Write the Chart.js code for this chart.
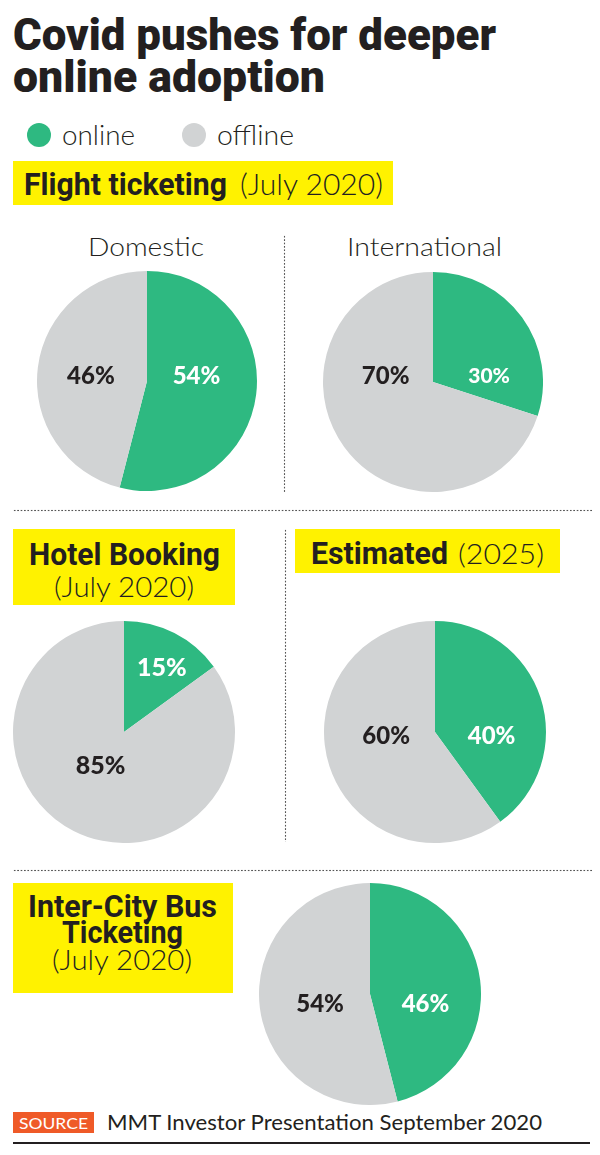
<!DOCTYPE html>
<html>
<head>
<meta charset="utf-8">
<script src="https://cdn.jsdelivr.net/npm/chart.js@4"></script>
<style>
  html, body { margin: 0; padding: 0; background: #fff; }
  #page { position: relative; width: 600px; height: 1155px; overflow: hidden; }
  .t { position: absolute; white-space: nowrap; line-height: 1; transform-origin: 0 0; color: #231f20; }
  .box { position: absolute; background: #fff200; }
  .dotsH { position: absolute; height: 3px;
    background: radial-gradient(circle, #555 0.8px, transparent 1.1px) 0 0 / 3.4px 3px repeat-x; }
  .dotsV { position: absolute; width: 3px;
    background: radial-gradient(circle, #555 0.8px, transparent 1.1px) 0 0 / 3px 3.4px repeat-y; }
  canvas { position: absolute; }
</style>
</head>
<body>
<div id="page"></div>
<script>
// data
const categories = ['online', 'offline'];
const pieNames = ['Domestic', 'International', 'Hotel Booking', 'Estimated', 'Inter-City Bus Ticketing'];
const onlineShare = [54, 30, 15, 40, 46];
const offlineShare = [46, 70, 85, 60, 54];

const colors = { online: '#2eb981', offline: '#d1d3d4' };
const page = document.getElementById('page');

// baseline offset (line-height 1) for each font
const baseOf = { Roboto: 0.842, Lato: 0.887 };

// place a text so that its baseline sits at y, optionally squeezed to a width
function txt(str, x, y, size, family, weight, width, color) {
    const d = document.createElement('div');
    d.className = 't';
    d.textContent = str;
    d.style.fontFamily = family;
    d.style.fontWeight = weight;
    d.style.fontSize = size + 'px';
    d.style.left = x + 'px';
    d.style.top = (y - baseOf[family] * size) + 'px';
    if (color) d.style.color = color;
    page.appendChild(d);
    if (width) {
        const w = d.getBoundingClientRect().width;
        d.style.transform = `scaleX(${width / w})`;
    }
    return d;
}

function rect(cls, x, y, w, h, bg) {
    const d = document.createElement('div');
    d.className = cls;
    d.style.left = x + 'px';
    d.style.top = y + 'px';
    if (w) d.style.width = w + 'px';
    if (h) d.style.height = h + 'px';
    if (bg) d.style.background = bg;
    page.appendChild(d);
    return d;
}

// title
txt('Covid pushes for deeper', 13, 50, 45, 'Roboto', 900, 483);
txt('online adoption', 13, 92, 45, 'Roboto', 900, 312);

// legend
const dot1 = rect('t', 27, 123, 24, 24, colors.online); dot1.style.borderRadius = '50%';
txt(categories[0], 62, 145, 27, 'Lato', 300, 73, '#231f20');
const dot2 = rect('t', 182, 123, 24, 24, colors.offline); dot2.style.borderRadius = '50%';
txt(categories[1], 217, 145, 27, 'Lato', 300, 77, '#231f20');

// section labels
rect('box', 13, 161, 380, 44);
txt('Flight ticketing', 24, 195, 32, 'Roboto', 700, 203);
txt('(July 2020)', 240, 195, 29, 'Lato', 300, 143);

txt(pieNames[0], 88, 256, 26, 'Lato', 300, 116);
txt(pieNames[1], 347, 256, 26, 'Lato', 300, 155);

rect('box', 13, 529, 222, 76);
txt('Hotel Booking', 29, 565, 31, 'Roboto', 700, 191);
txt('(July 2020)', 54, 597, 28, 'Lato', 300, 140);

rect('box', 295, 529, 265, 44);
txt('Estimated', 311, 564, 31, 'Roboto', 700, 137);
txt('(2025)', 458, 564, 28, 'Lato', 300, 86);

rect('box', 13, 883, 220, 110);
txt('Inter-City Bus', 28, 917, 31, 'Roboto', 700, 189);
txt('Ticketing', 62, 943, 31, 'Roboto', 700, 121);
txt('(July 2020)', 52, 970, 28, 'Lato', 300, 140);

// separators
rect('dotsV', 283, 235, 0, 258);
rect('dotsH', 13, 509, 579, 0);
rect('dotsV', 284, 529, 0, 313);
rect('dotsH', 13, 869, 579, 0);

// source
rect('t', 13, 1112, 81, 21, '#ef5a28');
txt('SOURCE', 19, 1129, 16, 'Lato', 400, 69, '#fff');
txt('MMT Investor Presentation September 2020', 107, 1130, 21, 'Lato', 400, 435);
rect('t', 13, 1142, 577, 2, '#231f20');

// labels inside the slices
const pieLabels = {
    id: 'pieLabels',
    afterDatasetsDraw(chart, args, opts) {
        const ctx = chart.ctx;
        const arcs = chart.getDatasetMeta(0).data;
        ctx.save();
        ctx.textAlign = 'center';
        ctx.textBaseline = 'alphabetic';
        arcs.forEach((arc, i) => {
            const size = opts.sizes[i];
            const x = arc.x + opts.offsets[i][0] * arc.outerRadius;
            const y = arc.y + opts.offsets[i][1] * arc.outerRadius;
            ctx.font = `900 ${size}px Lato`;
            ctx.fillStyle = i === 0 ? '#ffffff' : '#231f20';
            ctx.fillText(chart.data.datasets[0].data[i] + '%', x, y + 0.36 * size);
        });
        ctx.restore();
    }
};

// pie placement and label spots
const pieLayout = [
    { cx: 147, cy: 381, r: 110, offsets: [[0.45, -0.05], [-0.51, -0.05]], sizes: [24, 24] },
    { cx: 433, cy: 382, r: 110, offsets: [[0.51, -0.06], [-0.43, -0.06]], sizes: [21, 24] },
    { cx: 124, cy: 732, r: 111, offsets: [[0.34, -0.59], [-0.21, 0.30]], sizes: [25, 25] },
    { cx: 435, cy: 732, r: 111, offsets: [[0.51, 0.03], [-0.44, 0.03]], sizes: [24, 24] },
    { cx: 370, cy: 994, r: 111, offsets: [[0.50, 0.08], [-0.45, 0.08]], sizes: [24, 24] }
];

pieLayout.forEach((p, i) => {
    const c = document.createElement('canvas');
    c.width = p.r * 2;
    c.height = p.r * 2;
    c.style.left = (p.cx - p.r) + 'px';
    c.style.top = (p.cy - p.r) + 'px';
    c.style.width = p.r * 2 + 'px';
    c.style.height = p.r * 2 + 'px';
    page.appendChild(c);
    new Chart(c, {
        type: 'pie',
        data: {
            labels: categories,
            datasets: [{
                label: pieNames[i],
                data: [onlineShare[i], offlineShare[i]],
                backgroundColor: [colors.online, colors.offline],
                borderWidth: 0
            }]
        },
        options: {
            responsive: false,
            animation: false,
            layout: { padding: 0 },
            plugins: {
                legend: { display: false },
                tooltip: { enabled: false },
                pieLabels: { offsets: p.offsets, sizes: p.sizes }
            }
        },
        plugins: [pieLabels]
    });
});
</script>
</body>
</html>
